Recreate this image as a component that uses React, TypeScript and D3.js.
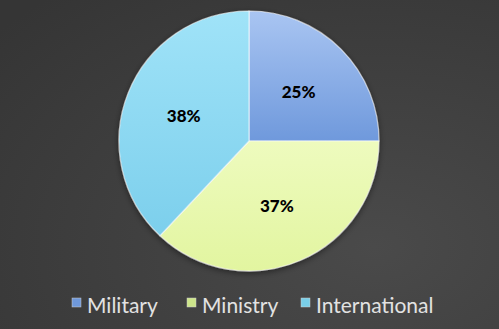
import React from "react";
import * as d3 from "d3";

const categories = ["Military", "Ministry", "International"];
const values = [25, 37, 38];
const labels = ["25%", "37%", "38%"];
const colorsTop = ["#a9c5f2", "#eefbbe", "#a0e3f8"];
const colorsBottom = ["#6f99dc", "#e2f5a0", "#7ccfec"];
const legendColors = ["#6f98da", "#cde58a", "#79cfe8"];

export default function App() {
  const W = 499, H = 329;
  const cx = 249, cy = 141, r = 130;
  const pie = d3.pie<number>().sort(null).value((d) => d)(values);
  const arc = d3.arc<d3.PieArcDatum<number>>().innerRadius(0).outerRadius(r);
  const labelArc = d3.arc<d3.PieArcDatum<number>>().innerRadius(r * 0.54).outerRadius(r * 0.54);
  const legendX = [72, 187, 301];
  return (
    <svg width={W} height={H} style={{ position: "absolute", left: 0, top: 0 }}>
      <defs>
        <radialGradient id="bg" cx="75%" cy="75%" r="100%">
          <stop offset="0%" stopColor="#4a4a4a" />
          <stop offset="100%" stopColor="#353535" />
        </radialGradient>
        {categories.map((c, i) => (
          <linearGradient key={c} id={`g${i}`} x1="0" y1="0" x2="0" y2="1">
            <stop offset="0%" stopColor={colorsTop[i]} />
            <stop offset="100%" stopColor={colorsBottom[i]} />
          </linearGradient>
        ))}
        <filter id="sh" x="-20%" y="-20%" width="140%" height="140%">
          <feDropShadow dx="0" dy="2" stdDeviation="3" floodColor="#000" floodOpacity="0.45" />
        </filter>
      </defs>
      <rect width={W} height={H} fill="url(#bg)" />
      <g transform={`translate(${cx},${cy})`} filter="url(#sh)">
        {pie.map((d, i) => (
          <path key={i} d={arc(d) || ""} fill={`url(#g${i})`} stroke="rgba(255,255,255,0.6)" strokeWidth={1.2} />
        ))}
      </g>
      <g transform={`translate(${cx},${cy})`}>
        {pie.map((d, i) => {
          const [x, y] = labelArc.centroid(d);
          return (
            <text key={i} x={x} y={y} textAnchor="middle" dominantBaseline="central"
              fontFamily="Lato, 'Open Sans', sans-serif" fontWeight="900" fontSize={17} fill="#000">
              {labels[i]}
            </text>
          );
        })}
      </g>
      {categories.map((c, i) => (
        <g key={c} transform={`translate(${legendX[i]},${304})`}>
          <rect x={0} y={-6} width={9} height={9} fill={legendColors[i]} stroke="#ccc" strokeWidth={0.5} />
          <text x={15} y={0} dominantBaseline="central" fontFamily="Lato, 'Open Sans', sans-serif"
            fontSize={21} fill="#e2e2e2">{c}</text>
        </g>
      ))}
    </svg>
  );
}
